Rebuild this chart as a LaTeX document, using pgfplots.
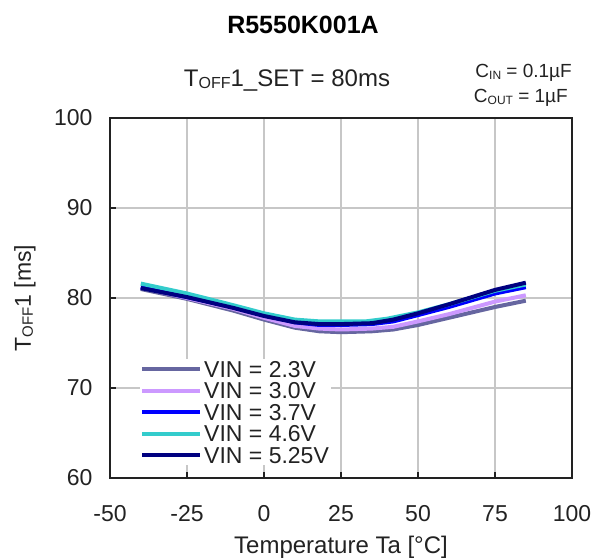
\documentclass[border=0pt]{standalone}
\usepackage{pgfplots}
\pgfplotsset{compat=1.18}
\usepackage{fontspec}
\setmainfont{Liberation Sans}
\definecolor{cA}{HTML}{6666A0}
\definecolor{cB}{HTML}{CC99FF}
\definecolor{cC}{HTML}{0000FF}
\definecolor{cD}{HTML}{33CCCC}
\definecolor{cE}{HTML}{000080}
\definecolor{txt}{HTML}{222222}
\newcommand{\fs}[1]{\fontsize{#1bp}{#1bp}\selectfont}
\newcommand{\sub}[2]{\raisebox{-2bp}{\fs{#1}#2}}
\begin{document}
\begin{tikzpicture}[x=1bp,y=1bp]
\useasboundingbox (0,0) rectangle (594,560);
\begin{axis}[
  at={(110bp,82bp)}, anchor=south west,
  scale only axis, width=462bp, height=360bp,
  xmin=-50, xmax=100, ymin=60, ymax=100,
  xtick={-50,-25,0,25,50,75,100},
  ytick={60,70,80,90,100},
  grid=major,
  major grid style={draw=black!22, line width=1.5bp},
  axis line style={line width=1.5bp, draw=txt},
  major tick style={line width=1.5bp, draw=txt},
  major tick length=6bp,
  tick align=inside,
  xtick pos=bottom, ytick pos=left,
  /pgf/number format/assume math mode=true,
  ticklabel style={font=\fs{23}, text=txt},
  xticklabel style={yshift=-24bp},
  yticklabel style={xshift=-14bp},
  xlabel={Temperature Ta [°C]},
  xlabel style={font=\fs{24}, text=txt, at={(axis description cs:0.5,0)}, anchor=base, yshift=-75bp},
  ylabel={T\sub{15}{OFF}1 [ms]},
  ylabel style={font=\fs{23}, text=txt, at={(axis description cs:0,0.5)}, anchor=center, rotate=0, yshift=85bp},
  legend cell align=left,
  legend style={at={(rel axis cs:0.065,0.33)}, anchor=north west, draw=none, fill=white,
    font=\fs{23}, text=txt, inner xsep=0pt, inner ysep=2bp,
    nodes={inner xsep=2bp, inner ysep=0pt, text height=16bp, text depth=0bp},
    row sep=5.5bp},
  legend image code/.code={\draw[#1, line width=4bp] (0bp,0bp) -- (58bp,0bp);},
  every axis plot/.append style={line width=4bp, line join=round},
]
\addplot[cA] coordinates {(-40,81.0) (-25,79.9) (-10,78.6) (0,77.6) (10,76.7) (18,76.3) (25,76.2) (35,76.3) (42,76.5) (50,77.0) (60,77.8) (75,79.0) (85,79.7)};
\addlegendentry{VIN = 2.3V}
\addplot[cB] coordinates {(-40,81.2) (-25,80.0) (-10,78.8) (0,77.8) (10,76.9) (18,76.6) (25,76.5) (35,76.6) (42,76.8) (50,77.4) (60,78.2) (75,79.6) (85,80.3)};
\addlegendentry{VIN = 3.0V}
\addplot[cC] coordinates {(-40,81.2) (-25,80.1) (-10,79.0) (0,78.1) (10,77.3) (18,77.0) (25,77.0) (35,77.1) (42,77.4) (50,78.1) (60,79.0) (75,80.5) (85,81.2)};
\addlegendentry{VIN = 3.7V}
\addplot[cD] coordinates {(-40,81.6) (-25,80.5) (-10,79.2) (0,78.3) (10,77.6) (18,77.4) (25,77.4) (33,77.4) (40,77.7) (50,78.4) (60,79.3) (75,80.8) (85,81.5)};
\addlegendentry{VIN = 4.6V}
\addplot[cE] coordinates {(-40,81.1) (-25,80.1) (-10,78.9) (0,78.0) (10,77.3) (18,77.1) (25,77.1) (35,77.2) (42,77.6) (50,78.3) (60,79.3) (75,80.9) (85,81.7)};
\addlegendentry{VIN = 5.25V}
\end{axis}
\node[anchor=base, font=\fs{25}\bfseries, text=black] at (303,526) {R5550K001A};
\node[anchor=base, font=\fs{24}, text=txt, inner sep=0pt] at (287,473) {T\sub{16}{OFF}1\_SET = 80ms};
\node[anchor=base east, font=\fs{19}, text=txt, inner sep=0pt] at (572,482) {C\sub{12}{IN} = 0.1µF};
\node[anchor=base east, font=\fs{19}, text=txt, inner sep=0pt] at (568,457) {C\sub{12}{OUT} = 1µF};
\end{tikzpicture}
\end{document}
